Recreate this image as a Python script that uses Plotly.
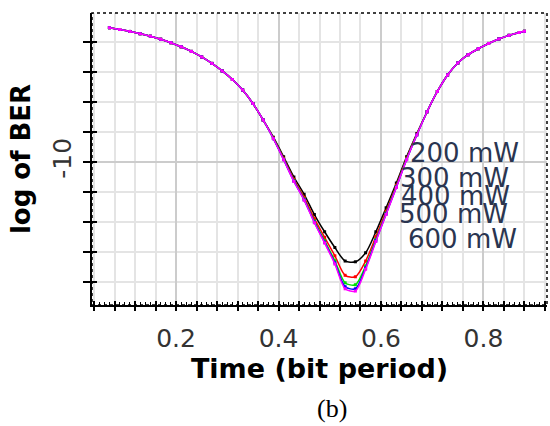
import plotly.graph_objects as go

# ---- data ----
time_bp = [0.07, 0.09, 0.11, 0.13, 0.15, 0.17, 0.19, 0.21, 0.23, 0.25, 0.27, 0.29, 0.31, 0.33,
           0.35, 0.37, 0.39, 0.41, 0.43, 0.45, 0.47, 0.49, 0.51, 0.53, 0.55, 0.57, 0.59, 0.61,
           0.63, 0.65, 0.67, 0.69, 0.71, 0.73, 0.75, 0.77, 0.79, 0.81, 0.83, 0.85, 0.87, 0.88]

ber_200 = [-1.05, -1.17, -1.3, -1.45, -1.62, -1.82, -2.05, -2.32, -2.63, -3.0, -3.43, -3.93, -4.5, -5.2,
           -6.1, -7.2, -8.35, -9.65, -11.0, -12.15, -13.5, -14.65, -15.7, -16.6, -16.65, -16.05, -14.65, -13.05,
           -11.4, -9.65, -8.1, -6.65, -5.3, -4.2, -3.4, -2.85, -2.45, -2.1, -1.8, -1.56, -1.37, -1.29]
ber_300 = [-1.05, -1.17, -1.3, -1.45, -1.62, -1.82, -2.05, -2.32, -2.63, -3.0, -3.43, -3.93, -4.5, -5.2,
           -6.1, -7.2, -8.4, -9.75, -11.15, -12.35, -13.77, -15.02, -16.25, -17.55, -17.65, -16.6, -14.97, -13.28,
           -11.55, -9.75, -8.15, -6.65, -5.3, -4.2, -3.4, -2.85, -2.45, -2.1, -1.8, -1.56, -1.37, -1.29]
ber_400 = [-1.05, -1.17, -1.3, -1.45, -1.62, -1.82, -2.05, -2.32, -2.63, -3.0, -3.43, -3.93, -4.5, -5.2,
           -6.1, -7.2, -8.43, -9.81, -11.24, -12.47, -13.94, -15.25, -16.58, -18.05, -18.18, -16.93, -15.17, -13.41,
           -11.64, -9.81, -8.18, -6.65, -5.3, -4.2, -3.4, -2.85, -2.45, -2.1, -1.8, -1.56, -1.37, -1.29]
ber_500 = [-1.05, -1.17, -1.3, -1.45, -1.62, -1.82, -2.05, -2.32, -2.63, -3.0, -3.43, -3.93, -4.5, -5.2,
           -6.1, -7.2, -8.45, -9.84, -11.28, -12.52, -14.01, -15.35, -16.72, -18.31, -18.45, -17.07, -15.25, -13.47,
           -11.68, -9.84, -8.2, -6.65, -5.3, -4.2, -3.4, -2.85, -2.45, -2.1, -1.8, -1.56, -1.37, -1.29]
ber_600 = [-1.05, -1.17, -1.3, -1.45, -1.62, -1.82, -2.05, -2.32, -2.63, -3.0, -3.43, -3.93, -4.5, -5.2,
           -6.1, -7.2, -8.45, -9.85, -11.3, -12.55, -14.05, -15.4, -16.8, -18.45, -18.6, -17.15, -15.3, -13.5,
           -11.7, -9.85, -8.2, -6.65, -5.3, -4.2, -3.4, -2.85, -2.45, -2.1, -1.8, -1.56, -1.37, -1.29]

series_names = ["200 mW", "300 mW", "400 mW", "500 mW", "600 mW"]
series_vals = [ber_200, ber_300, ber_400, ber_500, ber_600]
series_colors = ["#000000", "#ff0000", "#00e000", "#0000ff", "#ff00ff"]

# label anchor positions (data coords)
label_x = [0.652, 0.634, 0.636, 0.632, 0.648]
label_y = [-9.4, -11.05, -12.25, -13.45, -15.1]

x_ticks = [0.2, 0.4, 0.6, 0.8]
x_ticktext = ["0.2", "0.4", "0.6", "0.8"]

fig = go.Figure()
for name, vals, col in zip(series_names, series_vals, series_colors):
    fig.add_trace(go.Scatter(x=time_bp, y=vals, name=name, mode="lines+markers",
                             line=dict(color=col, width=1.5, shape="spline", smoothing=0.8),
                             marker=dict(color=col, size=3, symbol="square"),
                             showlegend=False))
# empty trace to carry overlay axes (inside tick marks)
fig.add_trace(go.Scatter(x=[], y=[], xaxis="x2", yaxis="y2", showlegend=False))

label_font = dict(family="DejaVu Sans", size=26, color="#2a3550")
for name, lx, ly in zip(series_names, label_x, label_y):
    fig.add_annotation(x=lx, y=ly, text=name, showarrow=False, xanchor="left",
                       yanchor="middle", font=label_font)

fig.add_annotation(x=0.527, y=-0.356, xref="paper", yref="paper", text="(b)", showarrow=False,
                   yanchor="middle",
                   font=dict(family="Liberation Serif", size=26, color="#000000"))

fig.add_shape(type="rect", xref="paper", yref="paper", x0=0, x1=1, y0=0, y1=1,
              line=dict(color="#000000", width=1.5, dash="dot"), layer="above")

xr = [0.036, 0.924]
yr = [-19.53, -0.07]

fig.update_layout(
    width=550, height=426,
    margin=dict(l=92, r=3, t=13, b=121),
    paper_bgcolor="white", plot_bgcolor="white",
    font=dict(family="DejaVu Sans", color="#222222"),
    xaxis=dict(range=xr, tickvals=x_ticks, ticktext=x_ticktext,
               tickfont=dict(size=25, color="#333333"),
               showgrid=True, gridcolor="#cccccc", gridwidth=2,
               ticks="outside", ticklen=4, tickwidth=1.5, tickcolor="black",
               minor=dict(dtick=0.04, tick0=0, showgrid=True, gridcolor="#e4e4e4", gridwidth=2,
                          ticks="outside", ticklen=4, tickwidth=1.5, tickcolor="black"),
               showline=True, linecolor="black", linewidth=2, zeroline=False,
               title=dict(text="<b>Time (bit period)</b>", font=dict(size=27, color="#000000"),
                          standoff=4),
               ticklabelstandoff=6),
    yaxis=dict(range=yr, tickvals=[-10], ticktext=["-10"], tickangle=-90,
               tickfont=dict(size=25, color="#333333"),
               showgrid=True, gridcolor="#cccccc", gridwidth=2,
               ticks="outside", ticklen=7, tickwidth=1.5, tickcolor="black",
               minor=dict(dtick=2, tick0=0, showgrid=True, gridcolor="#e4e4e4", gridwidth=2,
                          ticks="outside", ticklen=7, tickwidth=1.5, tickcolor="black"),
               showline=True, linecolor="black", linewidth=2, zeroline=False,
               title=dict(text="<b>log of BER</b>", font=dict(size=26, color="#000000"),
                          standoff=10),
               ticklabelstandoff=2),
    xaxis2=dict(range=xr, overlaying="x", matches="x", showticklabels=False, showgrid=False,
                zeroline=False, showline=False, dtick=0.04, tick0=0,
                ticks="inside", ticklen=4, tickwidth=1.5, tickcolor="black",
                minor=dict(dtick=0.01, tick0=0, ticks="inside", ticklen=3, tickwidth=1, tickcolor="black")),
    yaxis2=dict(range=yr, overlaying="y", matches="y", showticklabels=False, showgrid=False,
                zeroline=False, showline=False, dtick=2, tick0=0,
                ticks="inside", ticklen=5, tickwidth=1.5, tickcolor="black"),
)

fig.write_html("out.html")
